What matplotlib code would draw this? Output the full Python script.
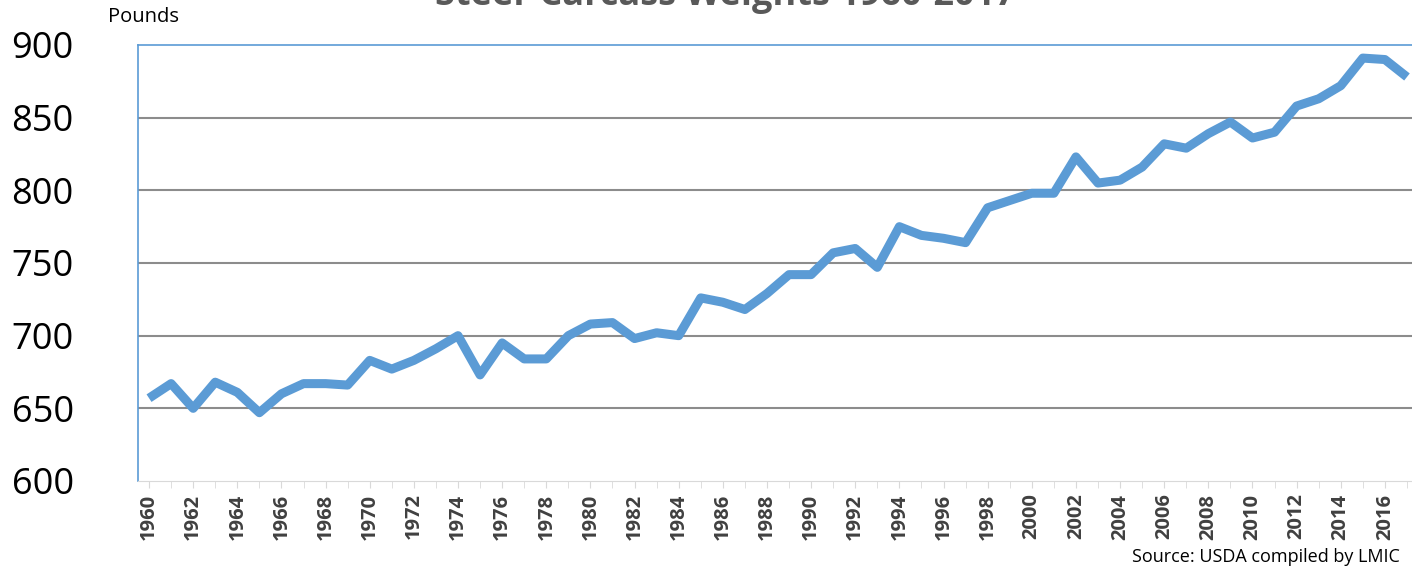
import matplotlib
matplotlib.use("Agg")
import matplotlib.pyplot as plt
import numpy as np

plt.rcParams["font.family"] = ["Open Sans", "DejaVu Sans"]

years = list(range(1960, 2018))
weights = [657, 667, 650, 668, 661, 647, 660, 667, 667, 666,
           683, 677, 683, 691, 700, 673, 695, 684, 684, 700,
           708, 709, 698, 702, 700, 726, 723, 718, 729, 742,
           742, 757, 760, 747, 775, 769, 767, 764, 788, 793,
           798, 798, 823, 805, 807, 816, 832, 829, 839, 847,
           836, 840, 858, 863, 872, 891, 890, 878]
y_ticks = [600, 650, 700, 750, 800, 850, 900]
title = "Steer Carcass Weights 1960-2017"

LINE_BLUE = "#5B9BD5"

fig = plt.figure(figsize=(14.12, 5.70), dpi=100)
ax = fig.add_axes([138/1412, 1 - 481/570, (1418-138)/1412, (481-45)/570])

ax.plot(years, weights, color=LINE_BLUE, lw=6.5, solid_joinstyle="round", solid_capstyle="butt", zorder=3)

ax.set_xlim(1959.5, 2017.5)
ax.set_ylim(600, 900)
ax.set_yticks(y_ticks)
ax.set_yticklabels([str(v) for v in y_ticks], fontsize=26)
ax.tick_params(axis="y", length=0, pad=91)
for lab in ax.get_yticklabels():
    lab.set_horizontalalignment("left")

# grid lines
for v in y_ticks[1:-1]:
    ax.axhline(v, color="#8c8c8c", lw=1.5, zorder=1)

ax.set_xticks(years, minor=True)
ax.set_xticks(years[::2])
ax.set_xticklabels([str(y) for y in years[::2]], rotation=90, fontsize=14.5,
                   fontweight="bold", color="#404040")
ax.tick_params(axis="x", which="both", length=5, color="#d9d9d9", direction="out", pad=4)

for side in ["left", "top"]:
    ax.spines[side].set_color(LINE_BLUE)
    ax.spines[side].set_linewidth(1.2)
ax.spines["bottom"].set_color("#d9d9d9")
ax.spines["right"].set_visible(False)

fig.text(108/1412, 1 - 17/570, "Pounds", fontsize=14.5, va="center", ha="left")
fig.text(725/1412, 1 + 4/570, title, fontsize=26, fontweight="bold", color="#595959",
         ha="center", va="center")
fig.text(1400/1412, 1 - 557/570, "Source: USDA compiled by LMIC", fontsize=13,
         ha="right", va="center")

fig.savefig("out.png", dpi=100)
